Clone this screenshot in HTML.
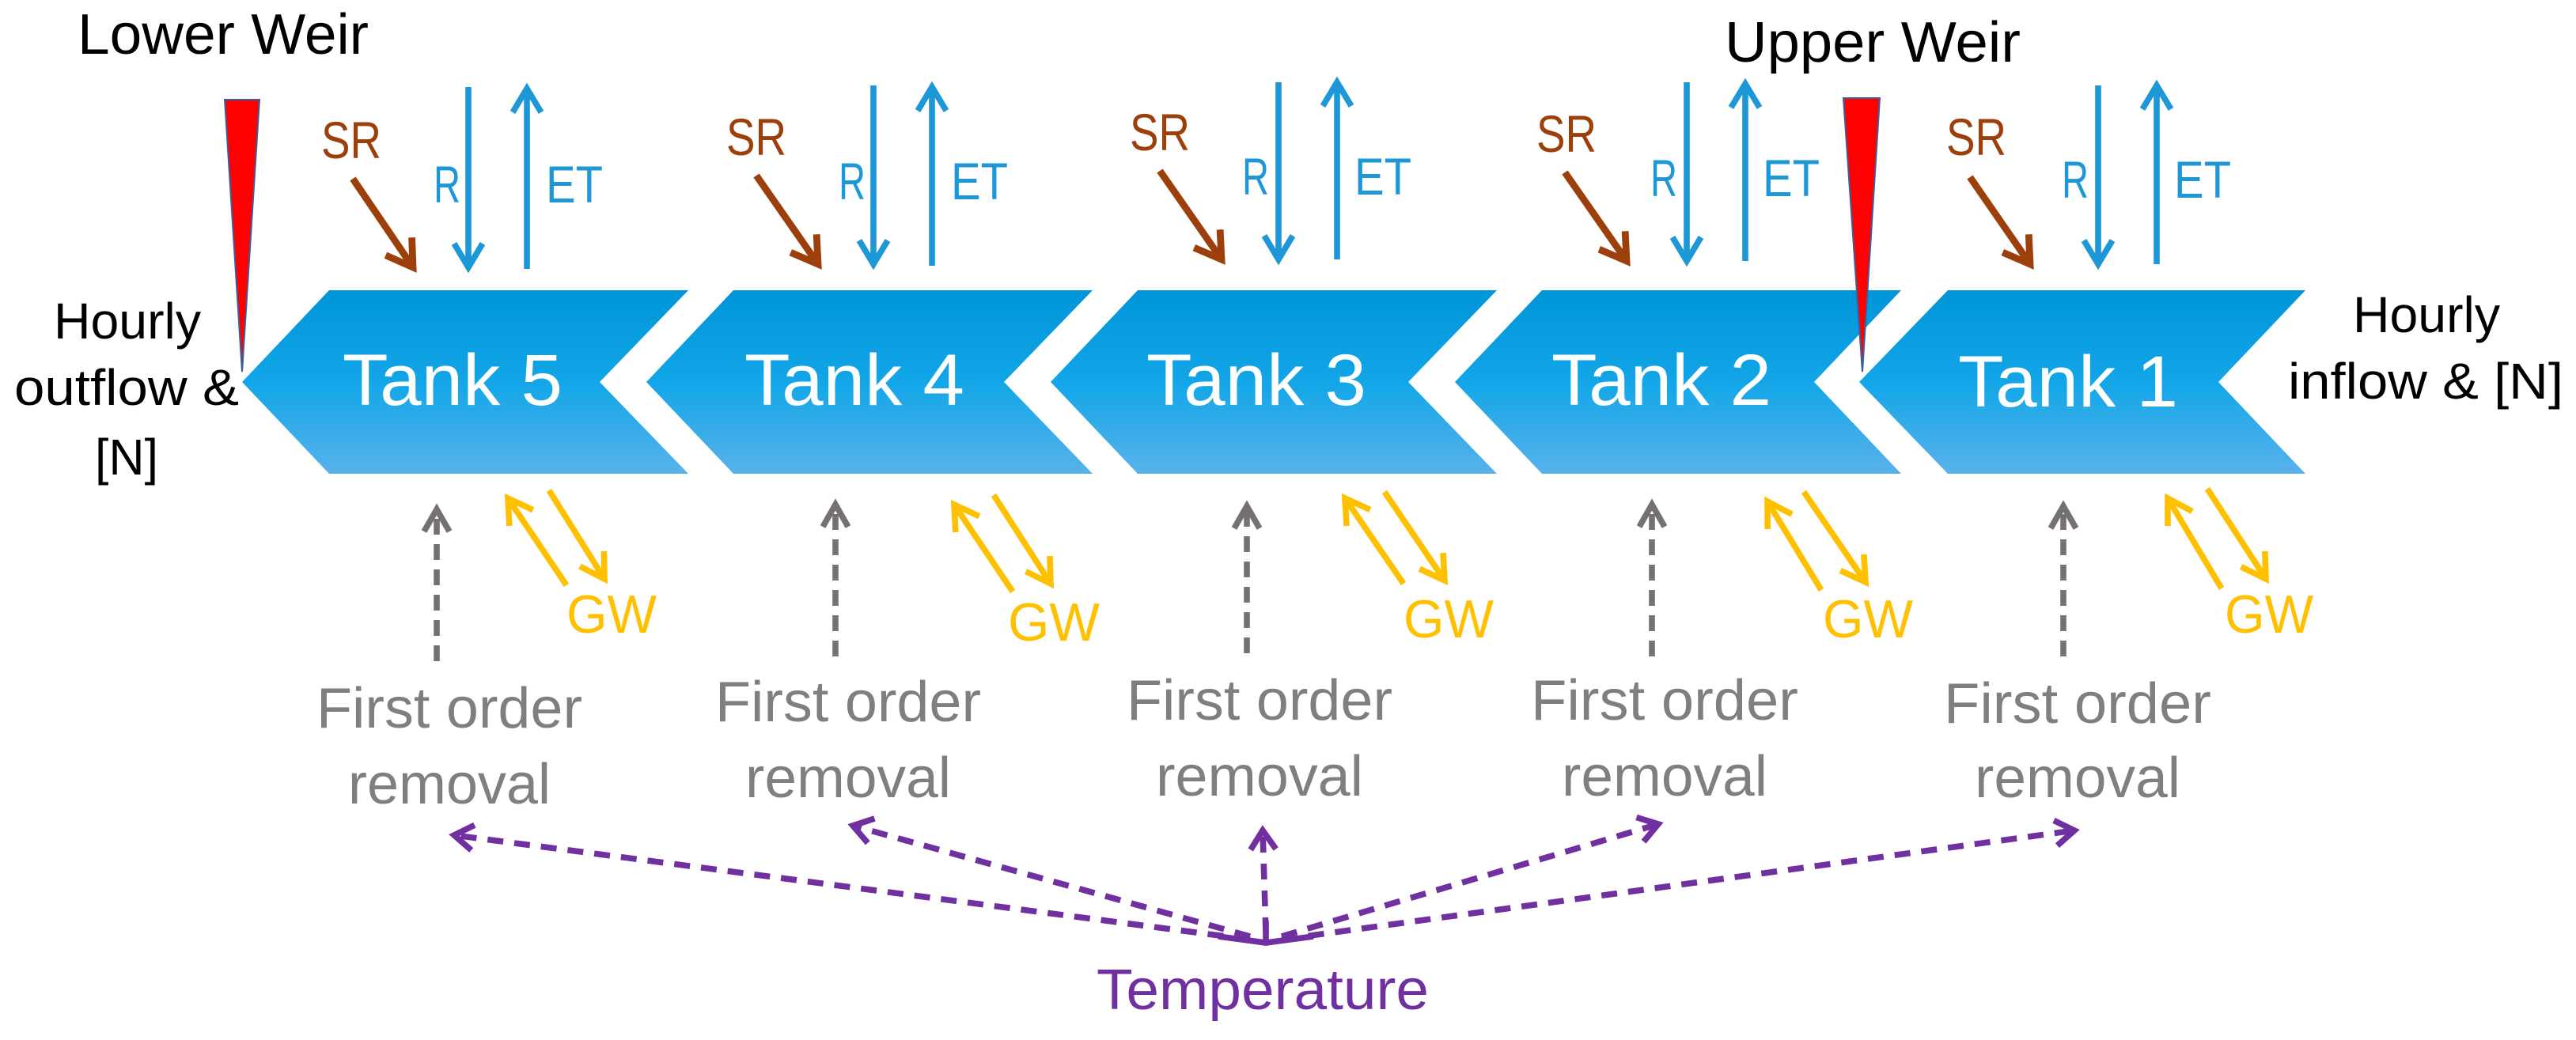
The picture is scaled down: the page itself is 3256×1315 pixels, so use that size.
<!DOCTYPE html>
<html><head><meta charset="utf-8"><style>html,body{margin:0;padding:0;background:#fff}svg{display:block}</style></head>
<body>
<svg xmlns="http://www.w3.org/2000/svg" width="3256" height="1315" viewBox="0 0 1628 657.5" font-family="Liberation Sans, sans-serif">
<defs>
<linearGradient id="tg" x1="0" y1="0" x2="0" y2="1">
<stop offset="0" stop-color="#0095d8"/><stop offset="0.5" stop-color="#12a6e8"/><stop offset="1" stop-color="#58b2ea"/>
</linearGradient>
<marker id="mb" markerUnits="userSpaceOnUse" markerWidth="40" markerHeight="40" refX="0" refY="0" viewBox="-20 -20 40 40" orient="auto" overflow="visible"><path d="M-15,-9 L0,0 L-15,9" fill="none" stroke="#1e97d6" stroke-width="3.8"/></marker>
<marker id="mr" markerUnits="userSpaceOnUse" markerWidth="40" markerHeight="40" refX="0" refY="0" viewBox="-20 -20 40 40" orient="auto" overflow="visible"><path d="M-16,-10 L0,0 L-16,10" fill="none" stroke="#9c3f0b" stroke-width="4.4"/></marker>
<marker id="my" markerUnits="userSpaceOnUse" markerWidth="40" markerHeight="40" refX="0" refY="0" viewBox="-20 -20 40 40" orient="auto" overflow="visible"><path d="M-15,-9 L0,0 L-15,9" fill="none" stroke="#ffc000" stroke-width="3.8"/></marker>
<marker id="mg" markerUnits="userSpaceOnUse" markerWidth="40" markerHeight="40" refX="0" refY="0" viewBox="-20 -20 40 40" orient="auto" overflow="visible"><path d="M-14,-8 L0,0 L-14,8" fill="none" stroke="#767171" stroke-width="3.8"/></marker>
<marker id="mp" markerUnits="userSpaceOnUse" markerWidth="40" markerHeight="40" refX="0" refY="0" viewBox="-20 -20 40 40" orient="auto" overflow="visible"><path d="M-12,-8 L0,0 L-12,8" fill="none" stroke="#7030a0" stroke-width="3.8"/></marker>
</defs>

<g fill="url(#tg)">
<polygon points="153,241.5 208,183.5 435,183.5 379,241.5 435,299.5 208,299.5"/>
<polygon points="408.5,241.5 463.5,183.5 690.5,183.5 634.5,241.5 690.5,299.5 463.5,299.5"/>
<polygon points="664,241.5 719,183.5 946,183.5 890,241.5 946,299.5 719,299.5"/>
<polygon points="919.5,241.5 974.5,183.5 1201.5,183.5 1146.5,241.5 1201.5,299.5 974.5,299.5"/>
<polygon points="1175,241.5 1231,183.5 1457,183.5 1402,241.5 1457,299.5 1231,299.5"/>
</g>
<g fill="#fff" font-size="46" text-anchor="middle">
<text x="286" y="256" textLength="139" lengthAdjust="spacingAndGlyphs">Tank 5</text>
<text x="540" y="256" textLength="139" lengthAdjust="spacingAndGlyphs">Tank 4</text>
<text x="794" y="256" textLength="139" lengthAdjust="spacingAndGlyphs">Tank 3</text>
<text x="1050" y="256" textLength="139" lengthAdjust="spacingAndGlyphs">Tank 2</text>
<text x="1307" y="257" textLength="139" lengthAdjust="spacingAndGlyphs">Tank 1</text>
</g>

<polygon points="142,63 164,63 153,235" fill="#ff0000" stroke="#3a5f9a" stroke-width="1"/>
<polygon points="1165,62 1188,62 1177,235" fill="#ff0000" stroke="#3a5f9a" stroke-width="1"/>

<g fill="#000">
<text x="49" y="34" font-size="36" textLength="184" lengthAdjust="spacingAndGlyphs">Lower Weir</text>
<text x="1090" y="39" font-size="36" textLength="187" lengthAdjust="spacingAndGlyphs">Upper Weir</text>
<text x="34" y="214" font-size="32" textLength="93" lengthAdjust="spacingAndGlyphs">Hourly</text>
<text x="9" y="256" font-size="32" textLength="142" lengthAdjust="spacingAndGlyphs">outflow &amp;</text>
<text x="60" y="300" font-size="32" textLength="40" lengthAdjust="spacingAndGlyphs">[N]</text>
<text x="1487" y="210" font-size="32" textLength="93" lengthAdjust="spacingAndGlyphs">Hourly</text>
<text x="1446" y="252" font-size="32" textLength="174" lengthAdjust="spacingAndGlyphs">inflow &amp; [N]</text>
</g>

<g fill="none">
<g stroke="#9c3f0b" stroke-width="4.4" marker-end="url(#mr)">
<line x1="223" y1="113" x2="261" y2="169"/>
<line x1="478" y1="111" x2="517" y2="167"/>
<line x1="733" y1="108" x2="772" y2="164"/>
<line x1="989" y1="109" x2="1028" y2="165"/>
<line x1="1245" y1="112" x2="1283" y2="167"/>
</g>
<g stroke="#1e97d6" stroke-width="3.8" marker-end="url(#mb)">
<line x1="296" y1="55" x2="296" y2="169"/>
<line x1="552" y1="54" x2="552" y2="167"/>
<line x1="808" y1="52" x2="808" y2="164"/>
<line x1="1066" y1="52" x2="1066" y2="165"/>
<line x1="1326" y1="54" x2="1326" y2="167"/>
<line x1="333" y1="170" x2="333" y2="56"/>
<line x1="589" y1="168" x2="589" y2="55"/>
<line x1="845" y1="164" x2="845" y2="52"/>
<line x1="1103" y1="165" x2="1103" y2="53"/>
<line x1="1363" y1="167" x2="1363" y2="54"/>
</g>
</g>
<g font-size="33">
<g fill="#9c3f0b">
<text x="203" y="100" textLength="38" lengthAdjust="spacingAndGlyphs">SR</text>
<text x="459" y="98" textLength="38" lengthAdjust="spacingAndGlyphs">SR</text>
<text x="714" y="95" textLength="38" lengthAdjust="spacingAndGlyphs">SR</text>
<text x="971" y="96" textLength="38" lengthAdjust="spacingAndGlyphs">SR</text>
<text x="1230" y="98" textLength="38" lengthAdjust="spacingAndGlyphs">SR</text>
</g>
<g fill="#1e97d6">
<text x="274" y="128" textLength="17" lengthAdjust="spacingAndGlyphs">R</text>
<text x="345" y="128" textLength="36" lengthAdjust="spacingAndGlyphs">ET</text>
<text x="530" y="126" textLength="17" lengthAdjust="spacingAndGlyphs">R</text>
<text x="601" y="126" textLength="36" lengthAdjust="spacingAndGlyphs">ET</text>
<text x="785" y="123" textLength="17" lengthAdjust="spacingAndGlyphs">R</text>
<text x="856" y="123" textLength="36" lengthAdjust="spacingAndGlyphs">ET</text>
<text x="1043" y="124" textLength="17" lengthAdjust="spacingAndGlyphs">R</text>
<text x="1114" y="124" textLength="36" lengthAdjust="spacingAndGlyphs">ET</text>
<text x="1303" y="125" textLength="17" lengthAdjust="spacingAndGlyphs">R</text>
<text x="1374" y="125" textLength="36" lengthAdjust="spacingAndGlyphs">ET</text>
</g>
</g>

<g stroke="#ffc000" stroke-width="3.8" fill="none" marker-end="url(#my)">
<line x1="358" y1="370" x2="321" y2="315"/><line x1="347" y1="310" x2="382" y2="366"/>
<line x1="640" y1="374" x2="603" y2="319"/><line x1="628" y1="313" x2="664" y2="369"/>
<line x1="887" y1="369" x2="850" y2="315"/><line x1="875" y1="311" x2="913" y2="367"/>
<line x1="1151" y1="373" x2="1117" y2="317"/><line x1="1140" y1="311" x2="1179" y2="368"/>
<line x1="1404" y1="372" x2="1370" y2="315"/><line x1="1395" y1="309" x2="1432" y2="366"/>
</g>
<g fill="#ffc000" font-size="34">
<text x="358" y="400" textLength="57" lengthAdjust="spacingAndGlyphs">GW</text>
<text x="637" y="405" textLength="58" lengthAdjust="spacingAndGlyphs">GW</text>
<text x="887" y="403" textLength="57" lengthAdjust="spacingAndGlyphs">GW</text>
<text x="1152" y="403" textLength="57" lengthAdjust="spacingAndGlyphs">GW</text>
<text x="1406" y="400" textLength="56" lengthAdjust="spacingAndGlyphs">GW</text>
</g>

<g stroke="#767171" stroke-width="3.8" fill="none" stroke-dasharray="10 6" marker-end="url(#mg)">
<line x1="276" y1="418" x2="276" y2="322"/>
<line x1="528" y1="415" x2="528" y2="319"/>
<line x1="788" y1="413" x2="788" y2="320"/>
<line x1="1044" y1="415" x2="1044" y2="319"/>
<line x1="1304" y1="415" x2="1304" y2="320"/>
</g>
<g fill="#7f7f7f" font-size="36" text-anchor="middle">
<text x="284" y="460" textLength="168" lengthAdjust="spacingAndGlyphs">First order</text>
<text x="284" y="508" textLength="128" lengthAdjust="spacingAndGlyphs">removal</text>
<text x="536" y="456" textLength="168" lengthAdjust="spacingAndGlyphs">First order</text>
<text x="536" y="504" textLength="130" lengthAdjust="spacingAndGlyphs">removal</text>
<text x="796" y="455" textLength="168" lengthAdjust="spacingAndGlyphs">First order</text>
<text x="796" y="503" textLength="131" lengthAdjust="spacingAndGlyphs">removal</text>
<text x="1052" y="455" textLength="169" lengthAdjust="spacingAndGlyphs">First order</text>
<text x="1052" y="503" textLength="130" lengthAdjust="spacingAndGlyphs">removal</text>
<text x="1313" y="457" textLength="169" lengthAdjust="spacingAndGlyphs">First order</text>
<text x="1313" y="504" textLength="130" lengthAdjust="spacingAndGlyphs">removal</text>
</g>

<g stroke="#7030a0" stroke-width="3.8" fill="none" stroke-dasharray="10 7" marker-end="url(#mp)">
<line x1="790" y1="594" x2="287" y2="528"/>
<line x1="790" y1="592" x2="539" y2="522"/>
<line x1="800" y1="590" x2="798" y2="525"/>
<line x1="810" y1="592" x2="1048" y2="521"/>
<line x1="810" y1="594" x2="1311" y2="525"/>
</g>
<path d="M770,592 L800,596 L830,592 M800,596 L800,582" stroke="#7030a0" stroke-width="3.8" fill="none"/>
<text x="693" y="638" fill="#7030a0" font-size="36" textLength="210" lengthAdjust="spacingAndGlyphs">Temperature</text>
</svg>
</body></html>
